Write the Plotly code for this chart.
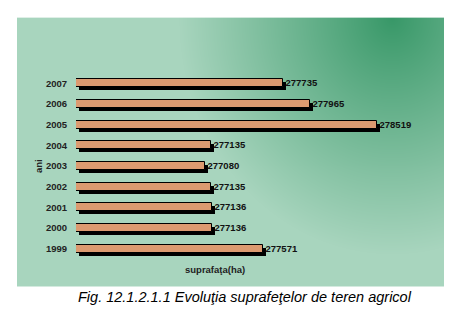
import base64, struct, zlib, math
import plotly.graph_objects as go

# ---- data ----
years = ["1999", "2000", "2001", "2002", "2003", "2004", "2005", "2006", "2007"]
area_ha = [277571, 277136, 277136, 277135, 277080, 277135, 278519, 277965, 277735]
x_title = "suprafaţa(ha)"
y_title = "ani"
caption = "Fig. 12.1.2.1.1 Evoluţia suprafeţelor de teren agricol"

# ---- layout geometry (pixels) ----
W, H = 465, 314
L, R, T, B = 76, 434, 72.6, 259.4
XMIN, XMAX = 276000, 279000
PW, PH = R - L, B - T
ux = (XMAX - XMIN) / PW          # data units per pixel
uy = 9.0 / PH                    # categories per pixel
SHX, SHY = 3, 3                  # shadow offset in px

# panel gradient (pixel box)
PX0, PX1, PY0, PY1 = 17, 444, 17, 287


def png_data_uri(w, h, fn):
    raw = bytearray()
    for j in range(h):
        raw.append(0)
        for i in range(w):
            raw.extend(fn(i / (w - 1), j / (h - 1)))
    def chunk(tag, data):
        c = tag + data
        return struct.pack(">I", len(data)) + c + struct.pack(">I", zlib.crc32(c) & 0xffffffff)
    png = b"\x89PNG\r\n\x1a\n" + chunk(b"IHDR", struct.pack(">IIBBBBB", w, h, 8, 2, 0, 0, 0)) \
        + chunk(b"IDAT", zlib.compress(bytes(raw), 9)) + chunk(b"IEND", b"")
    return "data:image/png;base64," + base64.b64encode(png).decode()


LIGHT = (168, 213, 190)
DARK = (56, 152, 104)


def grad(u, v):
    d = math.sqrt(((u - 0.88) / 0.5) ** 2 + (v / 0.88) ** 2)
    t = min(1.0, d) ** 0.95
    return bytes(int(DARK[k] + (LIGHT[k] - DARK[k]) * t) for k in range(3))


img = png_data_uri(PX1 - PX0, PY1 - PY0, grad)

fig = go.Figure()

# shadow bars (base axes, shifted ranges)
fig.add_trace(go.Bar(
    y=years, x=[v - XMIN for v in area_ha], base=XMIN, orientation="h",
    marker=dict(color="black", line=dict(width=0)), width=0.39,
    xaxis="x", yaxis="y", hoverinfo="skip", showlegend=False,
))
# main bars
fig.add_trace(go.Bar(
    y=years, x=[v - XMIN for v in area_ha], base=XMIN, orientation="h",
    marker=dict(color="#dc9a70", line=dict(color="black", width=1)), width=0.39,
    text=[str(v) for v in area_ha], textposition="outside", cliponaxis=False,
    constraintext="none",
    textfont=dict(family="Liberation Sans", size=9.5, color="#111", weight="bold"),
    xaxis="x2", yaxis="y2", showlegend=False,
))

lbl_font = dict(family="Liberation Sans", size=9.5, color="#222", weight="bold")

fig.update_layout(
    width=W, height=H,
    margin=dict(l=L, r=W - R, t=T, b=H - B, pad=0),
    paper_bgcolor="white", plot_bgcolor="rgba(0,0,0,0)",
    bargap=0,
    xaxis=dict(range=[XMIN - SHX * ux, XMAX - SHX * ux], visible=False, fixedrange=True),
    yaxis=dict(type="category", categoryorder="array", categoryarray=years,
               range=[-0.5 + SHY * uy, 8.5 + SHY * uy], visible=False),
    xaxis2=dict(range=[XMIN, XMAX], overlaying="x", visible=False),
    yaxis2=dict(type="category", categoryorder="array", categoryarray=years,
                range=[-0.5, 8.5], overlaying="y", side="left",
                showgrid=False, zeroline=False, showline=False,
                ticks="outside", ticklen=6, tickcolor="rgba(0,0,0,0)",
                tickfont=lbl_font),
    images=[dict(source=img, xref="paper", yref="paper",
                 x=(PX0 - L) / PW, y=(B - PY0) / PH,
                 sizex=(PX1 - PX0) / PW, sizey=(PY1 - PY0) / PH,
                 sizing="stretch", layer="below", xanchor="left", yanchor="top")],
    annotations=[
        dict(text=y_title, textangle=-90, x=(38 - L) / PW, y=(B - 166) / PH,
             xref="paper", yref="paper", showarrow=False,
             xanchor="center", yanchor="middle", font=lbl_font),
        dict(text=x_title, x=(215 - L) / PW, y=(B - 270) / PH,
             xref="paper", yref="paper", showarrow=False,
             xanchor="center", yanchor="middle", font=lbl_font),
        dict(text="<i>" + caption + "</i>", x=(245 - L) / PW, y=(B - 298) / PH,
             xref="paper", yref="paper", showarrow=False,
             xanchor="center", yanchor="middle",
             font=dict(family="Liberation Sans", size=14.5, color="black")),
    ],
)

fig.write_html("out.html", config={"displayModeBar": False})
